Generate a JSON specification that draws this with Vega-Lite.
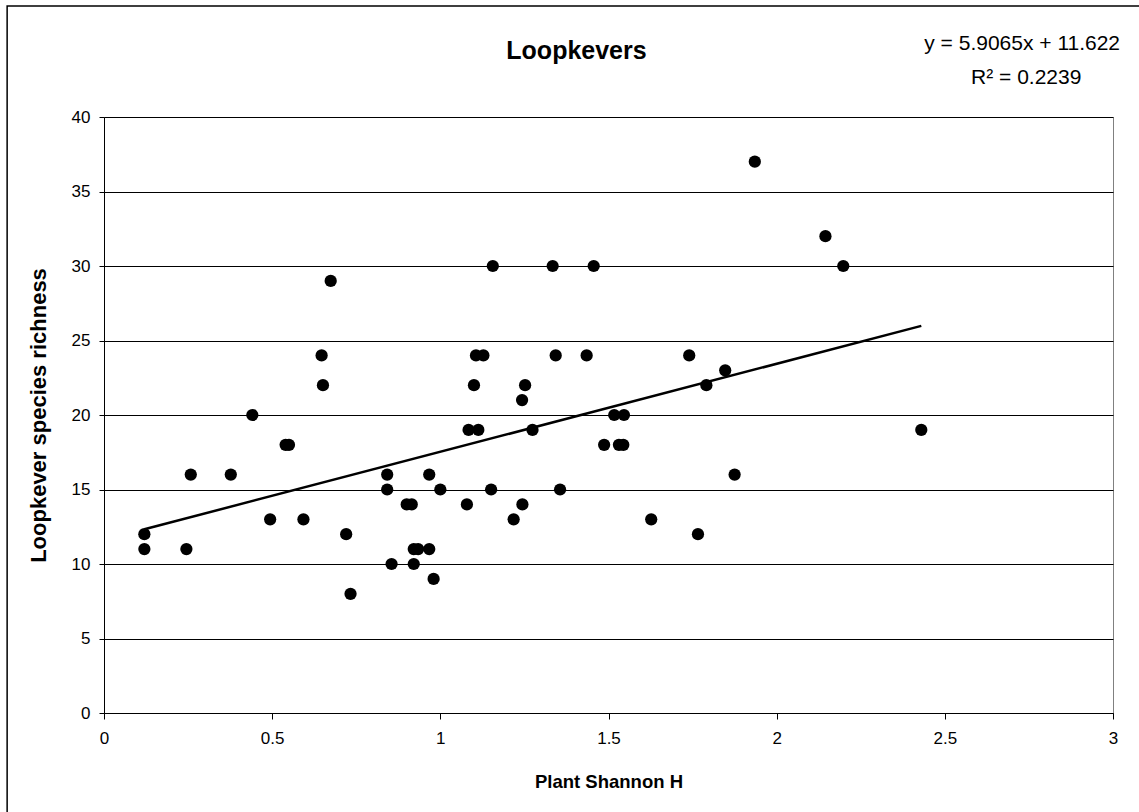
{
  "$schema": "https://vega.github.io/schema/vega-lite/v6.json",
  "width": 1009,
  "height": 596,
  "autosize": "none",
  "padding": {"left": 104, "top": 117, "right": 26, "bottom": 99},
  "background": "white",
  "title": {
    "text": "Loopkevers",
    "font": "Liberation Sans",
    "fontSize": 25,
    "fontWeight": "bold",
    "color": "black",
    "anchor": "middle",
    "frame": "group",
    "baseline": "alphabetic",
    "offset": -79,
    "dx": -32
  },
  "config": {
    "view": {"stroke": "#808080", "strokeWidth": 1},
    "axis": {
      "labelFont": "Liberation Sans",
      "titleFont": "Liberation Sans",
      "labelColor": "black",
      "titleColor": "black",
      "domainColor": "black",
      "tickColor": "black",
      "gridColor": "black",
      "gridOpacity": 1,
      "domainWidth": 1,
      "tickWidth": 1,
      "gridWidth": 1
    }
  },
  "datasets": {
    "points": [
      {"h": 0.12, "s": 12}, {"h": 0.12, "s": 11}, {"h": 0.245, "s": 11}, {"h": 0.258, "s": 16},
      {"h": 0.377, "s": 16}, {"h": 0.441, "s": 20}, {"h": 0.494, "s": 13}, {"h": 0.54, "s": 18},
      {"h": 0.55, "s": 18}, {"h": 0.593, "s": 13}, {"h": 0.647, "s": 24}, {"h": 0.651, "s": 22},
      {"h": 0.674, "s": 29}, {"h": 0.72, "s": 12}, {"h": 0.733, "s": 8}, {"h": 0.842, "s": 16},
      {"h": 0.842, "s": 15}, {"h": 0.855, "s": 10}, {"h": 0.9, "s": 14}, {"h": 0.915, "s": 14},
      {"h": 0.921, "s": 11}, {"h": 0.934, "s": 11}, {"h": 0.921, "s": 10}, {"h": 0.967, "s": 16},
      {"h": 0.967, "s": 11}, {"h": 0.98, "s": 9}, {"h": 1.0, "s": 15}, {"h": 1.079, "s": 14},
      {"h": 1.084, "s": 19}, {"h": 1.1, "s": 22}, {"h": 1.106, "s": 24}, {"h": 1.113, "s": 19},
      {"h": 1.128, "s": 24}, {"h": 1.151, "s": 15}, {"h": 1.156, "s": 30}, {"h": 1.218, "s": 13},
      {"h": 1.243, "s": 21}, {"h": 1.244, "s": 14}, {"h": 1.252, "s": 22}, {"h": 1.274, "s": 19},
      {"h": 1.334, "s": 30}, {"h": 1.343, "s": 24}, {"h": 1.356, "s": 15}, {"h": 1.435, "s": 24},
      {"h": 1.456, "s": 30}, {"h": 1.487, "s": 18}, {"h": 1.517, "s": 20}, {"h": 1.531, "s": 18},
      {"h": 1.544, "s": 18}, {"h": 1.546, "s": 20}, {"h": 1.627, "s": 13}, {"h": 1.74, "s": 24},
      {"h": 1.766, "s": 12}, {"h": 1.791, "s": 22}, {"h": 1.847, "s": 23}, {"h": 1.875, "s": 16},
      {"h": 1.935, "s": 37}, {"h": 2.145, "s": 32}, {"h": 2.198, "s": 30}, {"h": 2.43, "s": 19}
    ],
    "trend": [
      {"h": 0.12, "s": 12.33},
      {"h": 2.43, "s": 25.98}
    ],
    "equation": [
      {"line1": "y = 5.9065x + 11.622", "line2": "R² = 0.2239"}
    ]
  },
  "layer": [
    {
      "data": {"name": "equation"},
      "mark": {"type": "rect", "fill": null, "filled": false, "stroke": "black", "strokeWidth": 1.5, "clip": false},
      "encoding": {
        "x": {"datum": -0.288, "type": "quantitative"},
        "x2": {"datum": 3.6},
        "y": {"datum": 47.45, "type": "quantitative"},
        "y2": {"datum": -20}
      }
    },
    {
      "data": {"name": "points"},
      "mark": {"type": "point", "filled": true, "color": "black", "opacity": 1, "size": 150, "shape": "circle"},
      "encoding": {
        "x": {
          "field": "h", "type": "quantitative",
          "scale": {"domain": [0, 3], "nice": false, "zero": false},
          "axis": {
            "title": "Plant Shannon H",
            "titleFontSize": 18.5,
            "titleFontWeight": "bold",
            "titlePadding": 26,
            "values": [0, 0.5, 1, 1.5, 2, 2.5, 3],
            "format": "~g",
            "labelFontSize": 17,
            "labelPadding": 11,
            "tickSize": 6,
            "grid": false,
            "labelFlush": false,
            "labelOverlap": false
          }
        },
        "y": {
          "field": "s", "type": "quantitative",
          "scale": {"domain": [0, 40], "nice": false},
          "axis": {
            "title": "Loopkever species richness",
            "titleFontSize": 22,
            "titleFontWeight": "bold",
            "titlePadding": 21,
            "values": [0, 5, 10, 15, 20, 25, 30, 35, 40],
            "format": "~g",
            "labelFontSize": 17,
            "labelPadding": 9,
            "tickSize": 5,
            "grid": true,
            "labelFlush": false,
            "labelOverlap": false
          }
        }
      }
    },
    {
      "data": {"name": "trend"},
      "mark": {"type": "line", "color": "black", "strokeWidth": 2.5},
      "encoding": {
        "x": {"field": "h", "type": "quantitative"},
        "y": {"field": "s", "type": "quantitative"}
      }
    },
    {
      "data": {"name": "equation"},
      "mark": {"type": "text", "font": "Liberation Sans", "fontSize": 21, "color": "black", "align": "right", "baseline": "alphabetic", "clip": false},
      "encoding": {
        "x": {"datum": 3.021, "type": "quantitative"},
        "y": {"datum": 44.5, "type": "quantitative"},
        "text": {"field": "line1"}
      }
    },
    {
      "data": {"name": "equation"},
      "mark": {"type": "text", "font": "Liberation Sans", "fontSize": 21, "color": "black", "align": "center", "baseline": "alphabetic", "clip": false},
      "encoding": {
        "x": {"datum": 2.742, "type": "quantitative"},
        "y": {"datum": 42.2, "type": "quantitative"},
        "text": {"field": "line2"}
      }
    }
  ]
}
